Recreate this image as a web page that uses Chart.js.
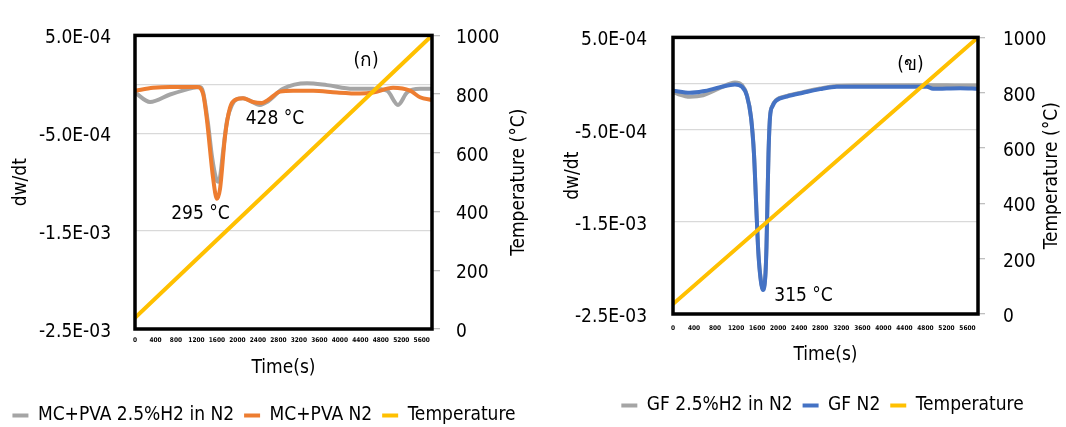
<!DOCTYPE html>
<html><head><meta charset="utf-8">
<script src="https://cdn.jsdelivr.net/npm/chart.js@4/dist/chart.umd.min.js"></script>
<style>
html,body{margin:0;padding:0;background:#fff;overflow:hidden;width:1066px;height:427px;}
#wrap{position:relative;width:1066px;height:427px;overflow:hidden;background:#fff;}
#c1box{position:absolute;left:-20px;top:0;width:568px;height:435px;}
#c2box{position:absolute;left:558px;top:0;width:529px;height:425px;}
</style></head><body>
<div id="wrap"><div id="c1box"><canvas id="c1"></canvas></div><div id="c2box"><canvas id="c2"></canvas></div></div>
<script>
// ---------- shared axes ----------
const timeTicks = [0,400,800,1200,1600,2000,2400,2800,3200,3600,4000,4400,4800,5200,5600];
const timeMax = 5800;
const dwTicks = [-0.0025, -0.0015, -0.0005, 0, 0.0005];
const dwTickLabels = ['-2.5E-03', '-1.5E-03', '-5.0E-04', '', '5.0E-04'];
const dwGridAt = [-0.0015, -0.0005, 0];
const tempTicks = [0,200,400,600,800,1000];

// ---------- chart (ก): MC+PVA ----------
const mcH2Time = [0,293,684,1133,1270,1328,1426,1504,1582,1621,1660,1719,1797,1894,1992,2109,2441,2578,2890,3359,3750,4257,4648,4921,5136,5312,5566,5800];
const mcH2Val  = [-8.4e-5,-1.8e-4,-1.04e-4,-3.6e-5,-2.7e-5,-7.5e-5,-4.0e-4,-7.4e-4,-9.6e-4,-9.95e-4,-9.5e-4,-6.9e-4,-3.7e-4,-2.1e-4,-1.5e-4,-1.42e-4,-2.1e-4,-1.8e-4,-4.6e-5,1.2e-5,-8e-6,-4.6e-5,-4.6e-5,-6.5e-5,-2.1e-4,-8.4e-5,-4.6e-5,-4.6e-5];
const mcN2Time = [0,352,684,1211,1328,1406,1523,1601,1660,1758,1855,1953,2109,2305,2480,2597,2832,3086,3477,3945,4394,4648,5039,5371,5566,5800];
const mcN2Val  = [-6.5e-5,-3.6e-5,-2.7e-5,-2.7e-5,-9.4e-5,-3.7e-4,-9.5e-4,-1.17e-3,-1.07e-3,-5.3e-4,-2.4e-4,-1.6e-4,-1.42e-4,-1.8e-4,-1.9e-4,-1.6e-4,-7.5e-5,-6.5e-5,-6.5e-5,-8.4e-5,-9.4e-5,-8.4e-5,-3.6e-5,-6.5e-5,-1.32e-4,-1.6e-4];
const mcTempTime = [0,5800];
const mcTempVal  = [38,1000];
const mcNotes = [
  {text:'295 °C', t:1279, v:-1.33e-3},
  {text:'428 °C', t:2734, v:-3.5e-4},
  {text:'(ก)', t:4512, v:2.42e-4}
];

// ---------- chart (ข): GF ----------
const gfH2Time = [0,323,571,894,1179,1312,1407,1483,1540,1578,1616,1654,1712,1759,1778,1797,1816,1845,1892,1959,2168,2472,2795,3118,3556,4830,4944,5458,5800];
const gfH2Val  = [-9.8e-5,-1.43e-4,-1.28e-4,-4.8e-5,1.2e-5,-1.8e-5,-1.3e-4,-3.6e-4,-7.6e-4,-1.26e-3,-1.76e-3,-2.05e-3,-2.23e-3,-2.05e-3,-1.76e-3,-1.26e-3,-7.6e-4,-3.6e-4,-2.4e-4,-1.8e-4,-1.35e-4,-9.5e-5,-5.5e-5,-2.8e-5,-2.2e-5,-1.8e-5,-1.8e-5,-2.2e-5,-2.2e-5];
const gfN2Time = [0,323,571,894,1179,1312,1407,1483,1540,1578,1616,1654,1712,1759,1778,1797,1816,1845,1892,1959,2168,2472,2795,3118,3556,4830,4944,5458,5800];
const gfN2Val  = [-7.8e-5,-1.01e-4,-8.5e-5,-4.1e-5,-1.1e-5,-3.5e-5,-1.35e-4,-3.67e-4,-7.65e-4,-1.264e-3,-1.762e-3,-2.061e-3,-2.241e-3,-2.061e-3,-1.762e-3,-1.264e-3,-7.65e-4,-3.67e-4,-2.47e-4,-1.87e-4,-1.41e-4,-1.01e-4,-6.1e-5,-3.5e-5,-3.5e-5,-3.5e-5,-5.8e-5,-5.1e-5,-5.8e-5];
const gfTempTime = [0,5800];
const gfTempVal  = [36,1000];
const gfNotes = [
  {text:'315 °C', t:2482, v:-2.31e-3},
  {text:'(ข)', t:4517, v:2.01e-4}
];

const FONT = "'DejaVu Sans Condensed', 'DejaVu Sans', sans-serif";
const FS = 19;
Chart.defaults.font.family = FONT;
Chart.defaults.color = '#000';

const pts = (ts, vs) => ts.map((t, i) => ({x: t, y: vs[i]}));

const notePlugin = {
  id: 'notes',
  afterDatasetsDraw(chart, args, opts) {
    const {ctx} = chart; const xs = chart.scales.x, ys = chart.scales.y;
    ctx.save();
    ctx.font = FS + 'px ' + FONT; ctx.fillStyle = '#000';
    ctx.textAlign = 'center'; ctx.textBaseline = 'middle';
    (opts.items || []).forEach(n => ctx.fillText(n.text, xs.getPixelForValue(n.t), ys.getPixelForValue(n.v)));
    ctx.restore();
  }
};
const framePlugin = {
  id: 'frame',
  afterDraw(chart, args, opts) {
    const {ctx, chartArea: a} = chart;
    ctx.save();
    ctx.strokeStyle = '#000'; ctx.lineWidth = 3.5;
    ctx.strokeRect(a.left, a.top, a.right - a.left, a.bottom - a.top);
    // rotated right-axis title (reads bottom to top)
    ctx.font = FS + 'px ' + FONT; ctx.fillStyle = '#000';
    ctx.textAlign = 'center'; ctx.textBaseline = 'middle';
    ctx.translate(a.right + opts.titleOffset, (a.top + a.bottom) / 2);
    ctx.rotate(-Math.PI / 2);
    ctx.fillText(opts.title, 0, 0);
    ctx.restore();
  }
};

function makeChart(id, L) {
  return new Chart(document.getElementById(id), {
    type: 'line',
    data: {
      datasets: [
        {label: L.names[0], data: pts(L.s1[0], L.s1[1]), borderColor: '#A5A5A5', backgroundColor: '#A5A5A5', borderWidth: 4, yAxisID: 'y', order: 2},
        {label: L.names[1], data: pts(L.s2[0], L.s2[1]), borderColor: L.c2, backgroundColor: L.c2, borderWidth: 4, yAxisID: 'y', order: 1},
        {label: 'Temperature', data: pts(L.s3[0], L.s3[1]), borderColor: '#FFC000', backgroundColor: '#FFC000', borderWidth: 4, yAxisID: 'y2', order: 0}
      ]
    },
    options: {
      responsive: true, maintainAspectRatio: false, animation: false,
      elements: {point: {radius: 0, hoverRadius: 0}, line: {cubicInterpolationMode: 'monotone', borderCapStyle: 'round', borderJoinStyle: 'round'}},
      layout: {padding: {top: L.top, left: 0, right: 0, bottom: 0}},
      scales: {
        x: {
          type: 'linear', min: 0, max: timeMax,
          afterBuildTicks: s => { s.ticks = timeTicks.map(v => ({value: v})); },
          afterFit: s => { s.height = L.xH; },
          grid: {display: false, drawTicks: false},
          border: {display: false},
          ticks: {autoSkip: false, maxRotation: 0, minRotation: 0, padding: L.xTickPad, font: {size: 6.5, weight: 'bold'}, callback: v => String(v)},
          title: {display: true, text: 'Time(s)', font: {size: FS, lineHeight: 1}, padding: {top: 0, bottom: L.xTitlePad}}
        },
        y: {
          type: 'linear', position: 'left', min: -0.0025, max: 0.0005,
          afterBuildTicks: s => { s.ticks = dwTicks.map(v => ({value: v})); },
          afterFit: s => { s.width = L.yW; },
          grid: {drawTicks: false, lineWidth: 1.3, color: c => (c.tick && dwGridAt.includes(c.tick.value)) ? '#d9d9d9' : 'rgba(0,0,0,0)'},
          border: {display: false},
          ticks: {padding: L.yTickPad, labelOffset: 3, font: {size: FS}, callback: v => dwTickLabels[dwTicks.indexOf(v)]},
          title: {display: true, text: 'dw/dt', font: {size: FS, lineHeight: 1}, padding: {top: L.yTitlePad, bottom: 0}}
        },
        y2: {
          type: 'linear', position: 'right', min: 0, max: 1000,
          afterBuildTicks: s => { s.ticks = tempTicks.map(v => ({value: v})); },
          afterFit: s => { s.width = L.y2W; },
          grid: {drawOnChartArea: false, drawTicks: true, tickLength: L.tickLen, color: '#bfbfbf', lineWidth: 1.3},
          border: {display: false},
          ticks: {padding: L.y2TickPad, labelOffset: 3, font: {size: FS}, callback: v => String(v)},
          title: {display: false}
        }
      },
      plugins: {
        legend: {
          position: 'bottom',
          labels: {usePointStyle: true, pointStyle: 'line', pointStyleWidth: 16, padding: 10, color: '#000', font: {size: FS},
                   sort: (a, b) => a.datasetIndex - b.datasetIndex}
        },
        tooltip: {enabled: false},
        notes: {items: L.notes},
        frame: {title: 'Temperature (°C)', titleOffset: L.titleOffset}
      }
    },
    plugins: [notePlugin, framePlugin]
  });
}

makeChart('c1', {
  names: ['MC+PVA 2.5%H2 in N2', 'MC+PVA N2'], c2: '#ED7D31',
  s1: [mcH2Time, mcH2Val], s2: [mcN2Time, mcN2Val], s3: [mcTempTime, mcTempVal],
  notes: mcNotes,
  top: 16, xH: 67, xTickPad: 7.2, xTitlePad: 18.5,
  yW: 155, yTickPad: 24, yTitlePad: 31.5,
  y2W: 116, tickLen: 8, y2TickPad: 16, titleOffset: 87
});
makeChart('c2', {
  names: ['GF 2.5%H2 in N2', 'GF N2'], c2: '#4472C4',
  s1: [gfH2Time, gfH2Val], s2: [gfN2Time, gfN2Val], s3: [gfTempTime, gfTempVal],
  notes: gfNotes,
  top: 13, xH: 72, xTickPad: 10.2, xTitlePad: 21.5,
  yW: 115, yTickPad: 26, yTitlePad: 5.5,
  y2W: 109, tickLen: 7, y2TickPad: 18, titleOffset: 74
});
</script></body></html>
